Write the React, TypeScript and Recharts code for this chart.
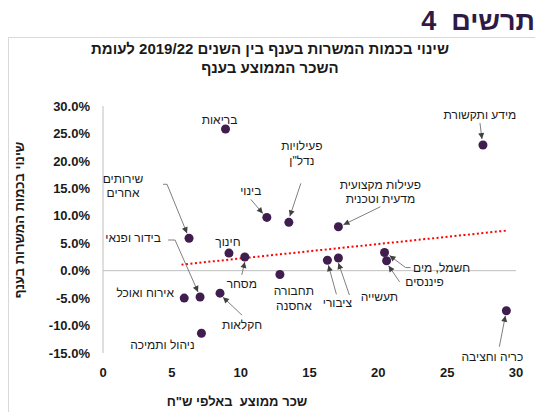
import {
  ReferenceLine,
  Scatter,
  ScatterChart,
  XAxis,
  YAxis,
} from "recharts";

const BRANCHES = [
  "בריאות",
  "מידע ותקשורת",
  "בינוי",
  'פעילויות נדל"ן',
  "פעילות מקצועית מדעית וטכנית",
  "שירותים אחרים",
  "חינוך",
  "מסחר",
  "תחבורה ואחסנה",
  "ציבורי",
  "תעשייה",
  "חשמל, מים",
  "פיננסים",
  "כריה וחציבה",
  "אירוח ואוכל",
  "בידור ופנאי",
  "חקלאות",
  "ניהול ותמיכה",
];
// average wage, thousands NIS
const WAGE = [8.9, 27.6, 11.9, 13.5, 17.1, 6.25, 9.15, 10.3, 12.85, 16.3, 17.1, 20.45, 20.6, 29.3, 5.9, 7.05, 8.5, 7.15];
// change in jobs 2019/22, %
const CHANGE = [25.8, 22.9, 9.7, 8.8, 8.0, 5.9, 3.2, 2.5, -0.7, 1.9, 2.3, 3.3, 1.8, -7.3, -5.0, -4.8, -4.1, -11.4];

const X_TICKS = [0, 5, 10, 15, 20, 25, 30];
const Y_TICKS = [-15, -10, -5, 0, 5, 10, 15, 20, 25, 30];

const TREND_X = [5.7, 29.3];
const TREND_Y = [1.1, 7.3];

const data = BRANCHES.map((name, i) => ({ name, x: WAGE[i], y: CHANGE[i] }));

// label placement relative to each point (px): text lines, text offset, leader path
type Note = { lines: string[]; dx: number; dy: number; lh?: number; path?: number[][] };
const NOTES: Record<string, Note> = {
  "בריאות": { lines: ["בריאות"], dx: -6, dy: -9 },
  "מידע ותקשורת": { lines: ["מידע ותקשורת"], dx: -3, dy: -30, path: [[-3, -22], [-1, -6]] },
  "בינוי": { lines: ["בינוי"], dx: -16, dy: -26, path: [[-16, -18], [-4, -4]] },
  'פעילויות נדל"ן': { lines: ["פעילויות", 'נדל"ן'], dx: 13, dy: -76, lh: 15, path: [[12, -39], [1, -6]] },
  "פעילות מקצועית מדעית וטכנית": {
    lines: ["פעילות מקצועית", "מדעית וטכנית"],
    dx: 42, dy: -42, lh: 14,
    path: [[42, -20], [5, -2]],
  },
  "שירותים אחרים": {
    lines: ["שירותים", "אחרים"],
    dx: -66, dy: -59, lh: 14,
    path: [[-26, -54], [-22, -54], [-2, -5]],
  },
  "חינוך": { lines: ["חינוך"], dx: -1, dy: -11 },
  "מסחר": { lines: ["מסחר"], dx: -3, dy: 27, path: [[-3, 18], [0, 5]] },
  "תחבורה ואחסנה": { lines: ["תחבורה", "אחסנה"], dx: 14, dy: 16, lh: 15 },
  "ציבורי": { lines: ["ציבורי"], dx: 10, dy: 43, path: [[9, 34], [1, 5]] },
  "תעשייה": { lines: ["תעשייה"], dx: 41, dy: 39, path: [[11, 37], [0, 5]] },
  "חשמל, מים": { lines: ["חשמל, מים"], dx: 57, dy: 15, path: [[26, 15], [21, 15], [5, 3]] },
  "פיננסים": { lines: ["פיננסים"], dx: 38, dy: 21, path: [[13, 21], [2, 5]] },
  "כריה וחציבה": { lines: ["כריה וחציבה"], dx: -14, dy: 46, path: [[-7, 36], [-1, 5]] },
  "אירוח ואוכל": { lines: ["אירוח ואוכל"], dx: -39, dy: -5 },
  "בידור ופנאי": {
    lines: ["בידור ופנאי"],
    dx: -67, dy: -59,
    path: [[-32, -57], [-25, -57], [-2, -5]],
  },
  "חקלאות": { lines: ["חקלאות"], dx: 22, dy: 32, path: [[22, 22], [3, 4]] },
  "ניהול ותמיכה": { lines: ["ניהול ותמיכה"], dx: -39, dy: 12 },
};

const FONT = "'Liberation Sans', Arial, sans-serif";
const DOT = "#3f1d4f";

function PointWithNote(props: any) {
  const { cx, cy, payload } = props;
  const note = NOTES[payload.name];
  let leader = null;
  if (note && note.path) {
    const pts = note.path.map(([px, py]) => [cx + px, cy + py]);
    const [ax, ay] = pts[pts.length - 2];
    const [bx, by] = pts[pts.length - 1];
    const len = Math.hypot(bx - ax, by - ay) || 1;
    const ux = (bx - ax) / len;
    const uy = (by - ay) / len;
    const h = 6;
    const w = 3;
    const head = [
      [bx, by],
      [bx - ux * h - uy * w, by - uy * h + ux * w],
      [bx - ux * h + uy * w, by - uy * h - ux * w],
    ];
    leader = (
      <g>
        <polyline
          points={pts.map((p) => p.join(",")).join(" ")}
          fill="none"
          stroke="#7f7f7f"
          strokeWidth={1}
        />
        <polygon points={head.map((p) => p.join(",")).join(" ")} fill="#404040" />
      </g>
    );
  }
  return (
    <g>
      <circle cx={cx} cy={cy} r={4.5} fill={DOT} />
      {leader}
      {note &&
        note.lines.map((line, i) => (
          <text
            key={i}
            x={cx + note.dx}
            y={cy + note.dy + i * (note.lh ?? 14)}
            textAnchor="middle"
            dominantBaseline="central"
            fontSize={12}
            fontFamily={FONT}
            fill="#1a1a1a"
          >
            {line}
          </text>
        ))}
    </g>
  );
}

export default function App() {
  return (
    <div
      style={{
        position: "absolute",
        left: 0,
        top: 0,
        width: 535,
        height: 412,
        background: "#fff",
        fontFamily: FONT,
        overflow: "hidden",
      }}
    >
      <div
        style={{
          position: "absolute",
          right: 0,
          top: 6,
          fontSize: 27,
          fontWeight: 700,
          color: "#2d1a45",
          direction: "rtl",
          lineHeight: "30px",
          whiteSpace: "pre",
        }}
      >
        {"תרשים  4"}
      </div>
      <div
        style={{
          position: "absolute",
          left: 8,
          top: 37,
          width: 527,
          height: 375,
          borderTop: "1px solid #d9d9d9",
          borderLeft: "1px solid #d9d9d9",
        }}
      />
      <div
        style={{
          position: "absolute",
          left: 8,
          width: 524,
          top: 39,
          textAlign: "center",
          fontSize: 15,
          fontWeight: 700,
          color: "#1a1a1a",
          direction: "rtl",
          lineHeight: "19px",
        }}
      >
        שינוי בכמות המשרות בענף בין השנים 2019/22 לעומת
        <br />
        השכר הממוצע בענף
      </div>
      <div
        style={{
          position: "absolute",
          left: 20 - 80,
          top: 220 - 9,
          width: 160,
          textAlign: "center",
          transform: "rotate(-90deg)",
          fontSize: 13,
          fontWeight: 700,
          color: "#1a1a1a",
          direction: "rtl",
          lineHeight: "18px",
        }}
      >
        שינוי בכמות המשרות בענף
      </div>
      <div
        style={{
          position: "absolute",
          left: 137,
          top: 393,
          width: 200,
          textAlign: "center",
          fontSize: 13,
          fontWeight: 700,
          color: "#1a1a1a",
          direction: "rtl",
          lineHeight: "18px",
          whiteSpace: "pre",
        }}
      >
        {'שכר ממוצע  באלפי ש"ח'}
      </div>
      <div style={{ position: "absolute", left: 0, top: 0 }}>
        <ScatterChart
          width={535}
          height={412}
          margin={{ top: 106, right: 19, bottom: 29, left: 43 }}
        >
          <XAxis
            type="number"
            dataKey="x"
            domain={[0, 30]}
            ticks={X_TICKS}
            axisLine={false}
            tickLine={false}
            tickMargin={9}
            height={30}
            tick={{ fontSize: 13, fontWeight: 700, fill: "#1a1a1a", fontFamily: FONT }}
          />
          <YAxis
            type="number"
            dataKey="y"
            domain={[-15, 30]}
            ticks={Y_TICKS}
            width={60}
            axisLine={{ stroke: "#bfbfbf" }}
            tickLine={false}
            tickMargin={7}
            tickFormatter={(v) => `${Number(v).toFixed(1)}%`}
            tick={{ fontSize: 13, fontWeight: 700, fill: "#1a1a1a", fontFamily: FONT }}
          />
          <ReferenceLine y={0} stroke="#bfbfbf" strokeWidth={1} />
          <ReferenceLine
            segment={[
              { x: TREND_X[0], y: TREND_Y[0] },
              { x: TREND_X[1], y: TREND_Y[1] },
            ]}
            stroke="#ff0000"
            strokeWidth={2}
            strokeDasharray="2 2.5"
          />
          <Scatter
            data={data}
            fill={DOT}
            shape={PointWithNote}
            isAnimationActive={false}
          />
        </ScatterChart>
      </div>
    </div>
  );
}
